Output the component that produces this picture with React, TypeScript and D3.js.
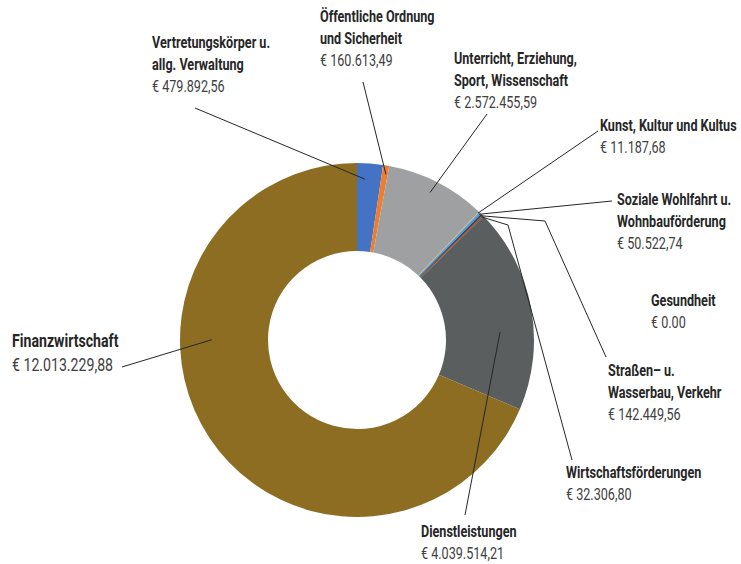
import React from "react";
import * as d3 from "d3";

// Categories (clockwise from 12 o'clock)
const categories = [
  "Vertretungskörper u. allg. Verwaltung",
  "Öffentliche Ordnung und Sicherheit",
  "Unterricht, Erziehung, Sport, Wissenschaft",
  "Kunst, Kultur und Kultus",
  "Soziale Wohlfahrt u. Wohnbauförderung",
  "Gesundheit",
  "Straßen- u. Wasserbau, Verkehr",
  "Wirtschaftsförderungen",
  "Dienstleistungen",
  "Finanzwirtschaft",
];

// Title lines as printed in the labels
const titleLines = [
  ["Vertretungskörper u.", "allg. Verwaltung"],
  ["Öffentliche Ordnung", "und Sicherheit"],
  ["Unterricht, Erziehung,", "Sport, Wissenschaft"],
  ["Kunst, Kultur und Kultus"],
  ["Soziale Wohlfahrt u.", "Wohnbauförderung"],
  ["Gesundheit"],
  ["Straßen– u.", "Wasserbau, Verkehr"],
  ["Wirtschaftsförderungen"],
  ["Dienstleistungen"],
  ["Finanzwirtschaft"],
];

// Amount labels as printed
const amountLabels = [
  "€ 479.892,56",
  "€ 160.613,49",
  "€ 2.572.455,59",
  "€ 11.187,68",
  "€ 50.522,74",
  "€ 0.00",
  "€ 142.449,56",
  "€ 32.306,80",
  "€ 4.039.514,21",
  "€ 12.013.229,88",
];

// Slice shares (% of the ring) as they appear in the picture
const sliceShares = [2.36, 0.56, 9.17, 0.06, 0.22, 0, 0.17, 0.14, 18.72, 68.6];

const colors = [
  "#4472C4",
  "#ED7D31",
  "#9EA0A1",
  "#FFC000",
  "#5B9BD5",
  "#70AD47",
  "#264478",
  "#9E480E",
  "#5B5E5F",
  "#8C6D22",
];

// Label layout: text left x, first line center y, font size, leader anchor inside slice (t along angle, r fraction), optional elbow, end point
const labelLayout = [
  { x: 152, y: 42, fs: 16.5, t: 0.33, r: 0.91, end: [195, 108] },
  { x: 320, y: 16, fs: 16.5, t: 0.7, r: 0.95, end: [363, 82] },
  { x: 454, y: 58, fs: 16.5, t: 0.48, r: 0.93, end: [487, 114] },
  { x: 600, y: 125, fs: 16.5, t: 0.5, r: 0.99, end: [598, 131] },
  { x: 617, y: 199, fs: 16.5, t: 0.5, r: 0.99, end: [612, 201] },
  { x: 651, y: 300, fs: 16.5, t: 0.5, r: 0.99, end: null },
  { x: 608, y: 370, fs: 16.5, t: 0.5, r: 0.99, elbow: [545, 221], end: [606, 357] },
  { x: 566, y: 472, fs: 16.5, t: 0.5, r: 0.99, elbow: [508, 225], end: [572, 460] },
  { x: 421, y: 531, fs: 16.5, t: 0.61, r: 0.81, end: [465, 515] },
  { x: 12, y: 340, fs: 18.5, t: 0.636, r: 0.82, end: [122, 367] },
];

const W = 741;
const H = 564;
const CX = 357;
const CY = 340;
const R_OUT = 177;
const R_IN = 89;
const LINE_H = 22;
const SCALE_X = 0.764;
const FONT = "Roboto, 'DejaVu Sans Condensed', sans-serif";

export default function App() {
  const pie = d3
    .pie<number>()
    .sort(null)
    .value((d) => d);
  const arcs = pie(sliceShares);
  const arcGen = d3
    .arc<d3.PieArcDatum<number>>()
    .innerRadius(R_IN)
    .outerRadius(R_OUT);

  return (
    <svg
      width={W}
      height={H}
      style={{ position: "absolute", left: 0, top: 0, background: "#fff" }}
      fontFamily={FONT}
    >
      <g transform={`translate(${CX},${CY})`}>
        {arcs.map((a, i) =>
          a.endAngle - a.startAngle > 0 ? (
            <path key={categories[i]} d={arcGen(a) || ""} fill={colors[i]} />
          ) : null
        )}
      </g>
      {labelLayout.map((L, i) => {
        if (!L.end) return null;
        const a = arcs[i];
        const ang = a.startAngle + L.t * (a.endAngle - a.startAngle);
        const rr = L.r * R_OUT;
        const ax = CX + rr * Math.sin(ang);
        const ay = CY - rr * Math.cos(ang);
        const pts: [number, number][] = [[ax, ay]];
        if (L.elbow) pts.push(L.elbow as [number, number]);
        pts.push(L.end as [number, number]);
        const line = d3.line()(pts) || "";
        return (
          <path key={"l" + i} d={line} fill="none" stroke="#262626" strokeWidth={1} />
        );
      })}
      {labelLayout.map((L, i) => {
        const lh = L.fs > 17 ? 24 : LINE_H;
        return (
          <g key={"t" + i} transform={`translate(${L.x},${L.y}) scale(${SCALE_X},1)`}>
            <text dominantBaseline="central" fontSize={L.fs}>
              {titleLines[i].map((s, j) => (
                <tspan key={j} x={0} y={j * lh} fontWeight="bold" fill="#262626">
                  {s}
                </tspan>
              ))}
              <tspan x={0} y={titleLines[i].length * lh} fill="#404040">
                {amountLabels[i]}
              </tspan>
            </text>
          </g>
        );
      })}
    </svg>
  );
}
